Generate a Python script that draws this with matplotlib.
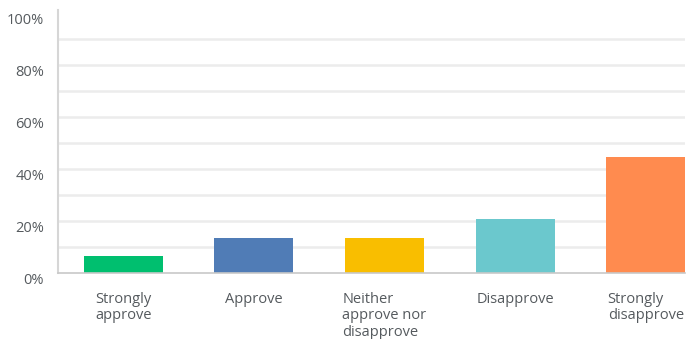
import numpy as np
import matplotlib.pyplot as plt
import matplotlib.transforms as mtransforms

# data
categories = ['Strongly\napprove', 'Approve', 'Neither\napprove nor\ndisapprove',
              'Disapprove', 'Strongly\ndisapprove']
values = [6.5, 13.2, 13.2, 20.6, 44.5]  # in %
colors = ['#00BF6F', '#507CB6', '#F9BE00', '#6BC8CD', '#FF8B4F']
yticks = [0, 20, 40, 60, 80, 100]
ytick_labels = ['0%', '20%', '40%', '60%', '80%', '100%']

plt.rcParams['font.family'] = ['Open Sans', 'DejaVu Sans']
txt_color = '#555a5e'

fig = plt.figure(figsize=(6.99, 3.39), dpi=100)
ax = fig.add_axes([58 / 699, 1 - 272.7 / 339, 627 / 699, 260 / 339])

x = np.arange(len(categories))
ax.bar(x, values, width=0.605, color=colors, zorder=3)

ax.set_xlim(-0.5, 4.3)
ax.set_ylim(0, 100)

# light gridlines every 10%
for g in range(10, 100, 10):
    ax.axhline(g, color='#ececec', lw=1.8, zorder=1)

ax.set_yticks(yticks)
ax.set_yticklabels(ytick_labels, fontsize=10.5, color=txt_color)
ax.tick_params(axis='y', length=0, pad=10)
offset = mtransforms.ScaledTranslation(0, -6 / 100, fig.dpi_scale_trans)
for lab in ax.get_yticklabels():
    lab.set_transform(lab.get_transform() + offset)

ax.set_xticks(x)
ax.set_xticklabels(categories, fontsize=10.5, color=txt_color,
                   ha='center', va='top', multialignment='left', linespacing=1.12)
ax.tick_params(axis='x', length=0, pad=14)

for s in ['top', 'right']:
    ax.spines[s].set_visible(False)
ax.spines['left'].set_color('#d6d6d6')
ax.spines['left'].set_linewidth(1.5)
ax.spines['left'].set_bounds(0, 101)
ax.spines['bottom'].set_color('#c8c8c8')
ax.spines['bottom'].set_linewidth(1.2)
ax.spines['bottom'].set_zorder(4)

fig.savefig('out.png', dpi=100)
